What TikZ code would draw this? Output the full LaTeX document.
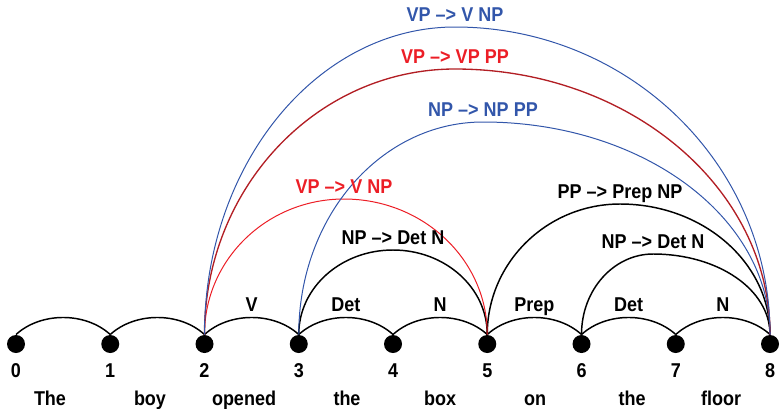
\documentclass[tikz,border=0pt]{standalone}
\usepackage{fontspec}
\setmainfont{Liberation Sans}[FakeStretch=0.9]
\definecolor{rulblue}{RGB}{50,86,170}
\definecolor{rulred}{RGB}{236,30,38}
\definecolor{ruldark}{RGB}{178,30,36}
\tikzset{every picture/.style={line width=0.75pt}}
\tikzset{
  dot/.style={circle, fill=black, inner sep=0pt, minimum size=13.5pt},
  txt/.style={anchor=base, inner sep=0pt},
  lbl/.style={anchor=base, inner sep=0pt, yshift=4.5pt},
  edgeblk/.style={draw=black, line width=1.1pt},
  edgeblu/.style={draw=rulblue, line width=0.75pt},
  edgered/.style={draw=rulred, line width=0.75pt},
  edgedrk/.style={draw=ruldark, line width=1pt}
}

\begin{document}
\begin{tikzpicture}[x=0.75pt,y=0.75pt,yscale=-1,xscale=1,font=\bfseries\fontsize{15}{18}\selectfont]
\useasboundingbox (0,0) rectangle (780,408);

%Shape: Circle
\node[dot] (n0) at (16,344) {};
\node[dot] (n1) at (110.25,344) {};
\node[dot] (n2) at (204.5,344) {};
\node[dot] (n3) at (298.75,344) {};
\node[dot] (n4) at (393,344) {};
\node[dot] (n5) at (487.25,344) {};
\node[dot] (n6) at (581.5,344) {};
\node[dot] (n7) at (675.75,344) {};
\node[dot] (n8) at (770,344) {};

% Text Node
\node[txt] (l0) at (16,377) {0};
\node[txt] (l1) at (110.25,377) {1};
\node[txt] (l2) at (204.5,377) {2};
\node[txt] (l3) at (298.75,377) {3};
\node[txt] (l4) at (393,377) {4};
\node[txt] (l5) at (487.25,377) {5};
\node[txt] (l6) at (581.5,377) {6};
\node[txt] (l7) at (675.75,377) {7};
\node[txt] (l8) at (770,377) {8};

% Text Node
\node[txt] (w1) at (50,405) {The};
\node[txt] (w2) at (150,405) {boy};
\node[txt] (w3) at (244,405) {opened};
\node[txt] (w4) at (347,405) {the};
\node[txt] (w5) at (440,405) {box};
\node[txt] (w6) at (535,405) {on};
\node[txt] (w7) at (632,405) {the};
\node[txt] (w8) at (721,405) {floor};

%Curve Lines
\draw[edgeblk] (n0.north) .. controls +(25,-22.7) and +(-25,-22.7) .. (n1.north);
\draw[edgeblk] (n1.north) .. controls +(25,-22.7) and +(-25,-22.7) .. (n2.north);
\draw[edgeblk] (n2.north) .. controls +(25,-22.7) and +(-25,-22.7) .. (n3.north) node[lbl,midway] (e23) {V};
\draw[edgeblk] (n3.north) .. controls +(25,-22.7) and +(-25,-22.7) .. (n4.north) node[lbl,midway] (e34) {Det};
\draw[edgeblk] (n4.north) .. controls +(25,-22.7) and +(-25,-22.7) .. (n5.north) node[lbl,midway] (e45) {N};
\draw[edgeblk] (n5.north) .. controls +(25,-22.7) and +(-25,-22.7) .. (n6.north) node[lbl,midway] (e56) {Prep};
\draw[edgeblk] (n6.north) .. controls +(25,-22.7) and +(-25,-22.7) .. (n7.north) node[lbl,midway] (e67) {Det};
\draw[edgeblk] (n7.north) .. controls +(25,-22.7) and +(-25,-22.7) .. (n8.north) node[lbl,midway] (e78) {N};

% tops of the long edges
\coordinate (t35) at (393,250);
\coordinate (t68) at (653,254);
\coordinate (t58) at (620,204);
\coordinate (t25) at (344,199);
\coordinate (t38) at (483,122);
\coordinate (t28r) at (455,69);
\coordinate (t28b) at (455,27);

%Curve Lines
\draw[edgeblk] (n3.north) .. controls +(0,-47) and +(-52,0) .. (t35) .. controls +(52,0) and +(0,-47) .. (n5.north);
\draw[edgeblk] (n6.north) .. controls +(0,-45) and +(-39,0) .. (t68) .. controls +(65,0) and +(0,-45) .. (n8.north);
\draw[edgeblk] (n5.north) .. controls +(0,-72) and +(-73,0) .. (t58) .. controls +(83,0) and +(0,-72) .. (n8.north);
\draw[edgered] (n2.north) .. controls +(0,-75) and +(-77,0) .. (t25) .. controls +(79,0) and +(0,-75) .. (n5.north);
\draw[edgeblu] (n3.north) .. controls +(0,-118) and +(-102,0) .. (t38) .. controls +(159,0) and +(0,-118) .. (n8.north);
\draw[edgedrk] (n2.north) .. controls +(0,-147) and +(-138,0) .. (t28r) .. controls +(174,0) and +(0,-147) .. (n8.north);
\draw[edgeblu] (n2.north) .. controls +(0,-170) and +(-138,0) .. (t28b) .. controls +(174,0) and +(0,-170) .. (n8.north);

% Text Node
\node[lbl] (r35) at (t35) {NP \textendash> Det N};
\node[lbl] (r68) at (t68) {NP \textendash> Det N};
\node[lbl] (r58) at (t58) {PP \textendash> Prep NP};
\node[lbl, text=rulred] (r25) at (t25) {VP \textendash> V NP};
\node[lbl, text=rulblue] (r38) at (t38) {NP \textendash> NP PP};
\node[lbl, text=rulred] (r28r) at (t28r) {VP \textendash> VP PP};
\node[lbl, text=rulblue] (r28b) at (t28b) {VP \textendash> V NP};

\end{tikzpicture}
\end{document}
